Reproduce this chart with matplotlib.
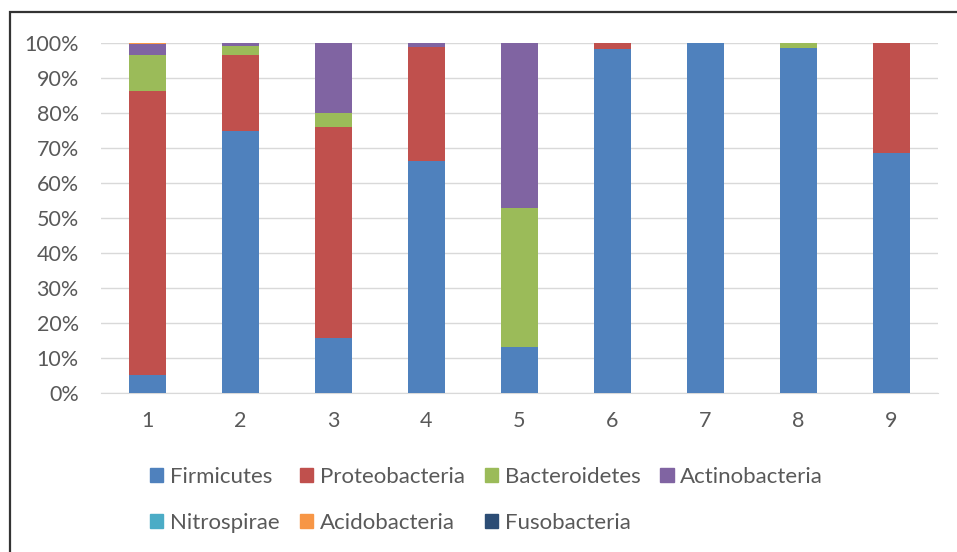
import numpy as np
import matplotlib.pyplot as plt
from matplotlib.patches import Rectangle, Patch
from matplotlib.ticker import PercentFormatter

plt.rcParams['font.family'] = ['Lato', 'DejaVu Sans']

samples = ['1', '2', '3', '4', '5', '6', '7', '8', '9']
phyla = ['Firmicutes', 'Proteobacteria', 'Bacteroidetes', 'Actinobacteria',
         'Nitrospirae', 'Acidobacteria', 'Fusobacteria']
colors = ['#4F81BD', '#C0504D', '#9BBB59', '#8064A2',
          '#4BACC6', '#F79646', '#2C4D75']

# relative abundance (%) per sample
firmicutes     = [5.1, 74.9, 15.7, 66.3, 13.1, 98.2, 100.0, 98.7, 68.6]
proteobacteria = [81.3, 21.8, 60.3, 32.6, 0.0, 1.8, 0.0, 0.0, 31.4]
bacteroidetes  = [10.3, 2.5, 4.0, 0.0, 39.8, 0.0, 0.0, 1.3, 0.0]
actinobacteria = [2.9, 0.7, 20.0, 1.1, 47.1, 0.0, 0.0, 0.0, 0.0]
nitrospirae    = [0.0, 0.0, 0.0, 0.0, 0.0, 0.0, 0.0, 0.0, 0.0]
acidobacteria  = [0.4, 0.1, 0.0, 0.0, 0.0, 0.0, 0.0, 0.0, 0.0]
fusobacteria   = [0.0, 0.0, 0.0, 0.0, 0.0, 0.0, 0.0, 0.0, 0.0]

series = [firmicutes, proteobacteria, bacteroidetes, actinobacteria,
          nitrospirae, acidobacteria, fusobacteria]

W, H = 957, 552
fig = plt.figure(figsize=(W/100, H/100), dpi=100)
ax = fig.add_axes([101/W, 1-393/H, (938-101)/W, (393-43)/H])

x = np.arange(1, len(samples)+1)
bottom = np.zeros(len(samples))
for vals, c in zip(series, colors):
    vals = np.array(vals)
    ax.bar(x, vals, width=0.4, bottom=bottom, color=c, zorder=3)
    bottom += vals

ax.set_xlim(0.5, 9.5)
ax.set_ylim(0, 100)
ax.set_yticks(np.arange(0, 101, 10))
ax.yaxis.set_major_formatter(PercentFormatter(decimals=0))
ax.set_xticks(x)
ax.set_xticklabels(samples)
ax.grid(axis='y', color='#d9d9d9', lw=1, zorder=0)
for s in ['top', 'right', 'left']:
    ax.spines[s].set_visible(False)
ax.spines['bottom'].set_color('#d9d9d9')
ax.tick_params(axis='both', length=0, labelsize=15.5, labelcolor='#595959')
ax.tick_params(axis='x', pad=13)
ax.tick_params(axis='y', pad=16)

# legend filled row by row
handles = [Patch(color=c) for c in colors]
order = [0, 4, 1, 5, 2, 6, 3]
fig.legend([handles[i] for i in order], [phyla[i] for i in order],
           ncol=4, loc='center left', bbox_to_anchor=(130/W, 1-500/H),
           frameon=False, fontsize=16, labelcolor='#595959',
           handlelength=0.6, handleheight=0.6, handletextpad=0.3,
           columnspacing=0.9, labelspacing=1.15)

fig.patches.append(Rectangle((10/W, -0.1), 1.2, 1-12/H+0.1,
                             transform=fig.transFigure, fill=False,
                             edgecolor='#333333', lw=1.6))

fig.savefig('out.png', dpi=100)
